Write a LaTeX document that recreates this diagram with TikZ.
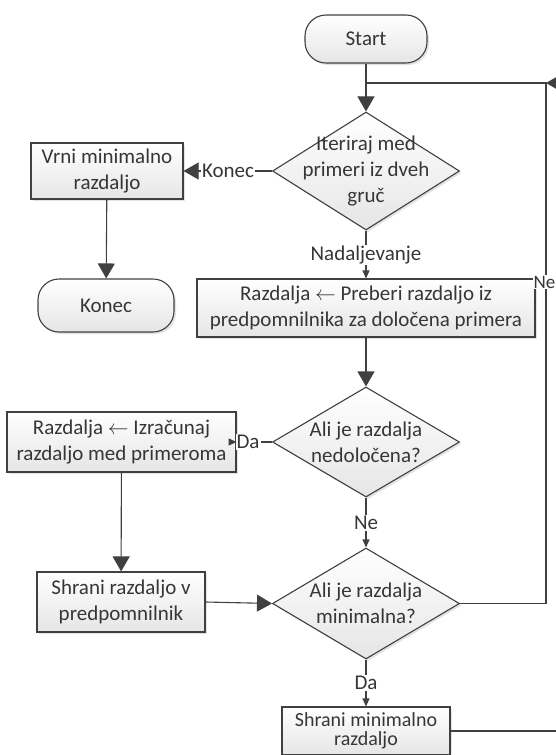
\documentclass[tikz,border=0pt]{standalone}
\usepackage{fontspec}
\setmainfont{Carlito}
\usetikzlibrary{shapes.geometric,arrows.meta,shadows}
\definecolor{ink}{HTML}{404040}
\definecolor{txt}{HTML}{363636}
\begin{document}
\begin{tikzpicture}[x=1pt,y=-1pt,
  base/.style={draw=ink, line width=1.1pt, top color=white, bottom color=black!10,
    drop shadow={shadow xshift=2pt, shadow yshift=-2pt, fill=black!22},
    inner sep=0pt, text=txt, align=center, font=\fontsize{21}{25.6}\selectfont},
  box/.style={base, rectangle},
  term/.style={base, rectangle, rounded corners=21pt},
  dec/.style={base, diamond},
  dtext/.style={inner sep=0pt, text=txt, align=center, font=\fontsize{21}{25.6}\selectfont},
  lbl/.style={fill=white, inner sep=1pt, text=txt, font=\fontsize{21}{25.6}\selectfont},
  line/.style={draw=ink, line width=1.1pt},
  big/.style={line, -{Triangle[length=15pt,width=17pt]}},
  small/.style={line, -{Triangle[length=8pt,width=7pt]}}]
\path[use as bounding box] (0,0) rectangle (556,755);
\clip (0,0) rectangle (556,755);

% shapes
\node[term, minimum width=122pt, minimum height=48pt] (start) at (366,39) {Start};
\node[dec, minimum width=187pt, minimum height=118pt] (d1) at (366,171) {};
\node[dtext] (d1t) at (366,171) {Iteriraj med\\primeri iz dveh\\gruč};
\node[box, minimum width=152pt, minimum height=56pt] (vrni) at (107,171) {Vrni minimalno\\razdaljo};
\node[term, minimum width=136pt, minimum height=53pt] (konec) at (106,305.5) {Konec};
\node[box, minimum width=338pt, minimum height=58pt] (pre) at (366,308)
  {Razdalja $\leftarrow$ Preberi razdaljo iz\\predpomnilnika za določena primera};
\node[dec, minimum width=187pt, minimum height=110pt] (d2) at (366,442) {};
\node[dtext] (d2t) at (366,442) {Ali je razdalja\\nedoločena?};
\node[box, minimum width=229pt, minimum height=60pt] (izr) at (121.5,442)
  {Razdalja $\leftarrow$ Izračunaj\\razdaljo med primeroma};
\node[box, minimum width=168pt, minimum height=60pt] (shr) at (121,602) {Shrani razdaljo v\\predpomnilnik};
\node[dec, minimum width=187pt, minimum height=111pt] (d3) at (366,603.5) {};
\node[dtext] (d3t) at (366,603.5) {Ali je razdalja\\minimalna?};
\node[box, minimum width=168pt, minimum height=48pt, font=\fontsize{20}{19.5}\selectfont] (minb) at (366,731)
  {Shrani minimalno\\razdaljo};

% branch labels
\node[lbl] (lk) at (228,171) {Konec};
\node[lbl] (ln) at (366,255) {Nadaljevanje};
\node[lbl] (lda1) at (248,442) {Da};
\node[lbl] (lne1) at (366,523) {Ne};
\node[lbl] (lda2) at (366,683) {Da};

% loop-back routing points
\coordinate (jn) at (366,83);
\coordinate (rc) at (546,83);
\coordinate (off) at (610,731);

% connectors
\draw[big] (start) -- (d1);
\draw[line] (d1.west) -- (lk.east);
\draw[big] (lk.west) -- (vrni.east);
\draw[big] (vrni) -- (konec);
\draw[line] (d1.south) -- (ln.north);
\draw[small] (ln.south) -- (pre.north);
\draw[big] (pre) -- (d2);
\draw[line] (d2.west) -- (lda1.east);
\draw[small] (lda1.west) -- (izr.east);
\draw[line] (d2.south) -- (lne1.north);
\draw[small] (lne1.south) -- (d3.north);
\draw[big] (izr) -- (shr);
\draw[big] (shr.east) -- (d3.west);
\draw[line] (d3.south) -- (lda2.north);
\draw[small] (lda2.south) -- (minb.north);
\draw[line] (d3.east) -| (rc) -- (jn);
\draw[big] (minb.east) -- (off) |- (rc);

% label on the return line
\node[lbl, anchor=east, inner sep=0.5pt, font=\fontsize{19}{23}\selectfont] (lne2) at (556,282) {Ne};
\end{tikzpicture}
\end{document}
